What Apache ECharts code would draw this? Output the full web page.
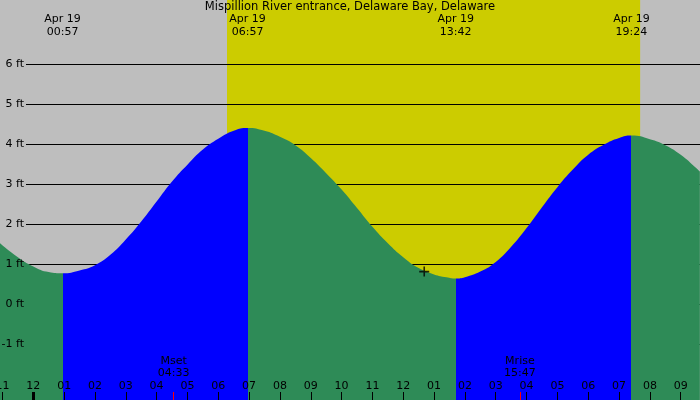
<!DOCTYPE html>
<html><head><meta charset="utf-8">
<script src="https://cdn.jsdelivr.net/npm/echarts@6/dist/echarts.min.js"></script>
<style>html,body{margin:0;padding:0;background:#bebebe}#c{width:700px;height:400px}</style>
</head><body><div id="c"></div>
<script>
// ---- data ----
const titleText = 'Mispillion River entrance, Delaware Bay, Delaware';
const dayLabel = 'Apr 19';
// tide readings: hours after midnight Apr 19, height in ft
const tideTimes   = [-1.08, -0.5, 0.0, 0.5, 0.95, 1.5, 2.0, 2.5, 3.0, 3.5, 4.0, 4.5, 5.0, 5.5, 6.0, 6.5, 6.95,
                     7.5, 8.0, 8.5, 9.0, 9.5, 10.0, 10.5, 11.0, 11.5, 12.0, 12.5, 13.0, 13.4, 13.70,
                     14.0, 14.5, 15.0, 15.5, 16.0, 16.5, 17.0, 17.5, 18.0, 18.5, 19.0, 19.40,
                     20.0, 20.5, 21.0, 21.5, 21.62];
const tideHeights = [1.52, 1.17, 0.94, 0.80, 0.77, 0.84, 0.97, 1.23, 1.61, 2.06, 2.56, 3.06, 3.48, 3.86, 4.13, 4.33, 4.40,
                     4.33, 4.18, 3.97, 3.65, 3.27, 2.86, 2.40, 1.93, 1.52, 1.17, 0.90, 0.74, 0.67, 0.64,
                     0.67, 0.81, 1.05, 1.43, 1.90, 2.42, 2.92, 3.36, 3.73, 3.98, 4.15, 4.21,
                     4.12, 3.97, 3.73, 3.40, 3.31];
// high / low tide events
const extremeTimes = ['00:57', '06:57', '13:42', '19:24'];
const extremeTypes = ['L', 'H', 'L', 'H'];
// sun
const sunrise = '06:17';
const sunset = '19:41';
// moon
const moonTimes = ['04:33', '15:47'];
const moonLabels = ['Mset', 'Mrise'];
// current time marker
const nowTime = 12.68;
const nowHeight = 0.81;
// axis ticks
const hourTicks = [-1, 0, 1, 2, 3, 4, 5, 6, 7, 8, 9, 10, 11, 12, 13, 14, 15, 16, 17, 18, 19, 20, 21];
const midnightTicks = [0];

// ---- helpers ----
const GREEN = '#2e8b57', BLUE = '#0000ff', YELLOW = '#cccc00', GRAY = '#bebebe';
const FONT = "'DejaVu Sans', sans-serif";
function toHours(s) { const p = s.split(':'); return (+p[0]) + (+p[1]) / 60; }
function pad(n) { return (n < 10 ? '0' : '') + n; }
function hhmm(v) { const m = Math.round(v * 60); return pad(Math.floor(m / 60)) + ':' + pad(m % 60); }
function hourLabel(v) { const h = ((Math.round(v) % 12) + 12) % 12; return pad(h === 0 ? 12 : h); }

const extremeHours = extremeTimes.map(toHours);
const moonHours = moonTimes.map(toHours);
const tideData = tideTimes.map((t, i) => [t, tideHeights[i]]);

const pieces = [];
let prev = null;
extremeHours.forEach((h, i) => {
  const p = { lt: h, color: extremeTypes[i] === 'L' ? GREEN : BLUE };
  if (prev !== null) p.gte = prev;
  pieces.push(p);
  prev = h;
});
pieces.push({ gte: prev, color: extremeTypes[extremeTypes.length - 1] === 'L' ? BLUE : GREEN });

const xMin = -1.08, xMax = 21.625;
const baseX = {
  gridIndex: 0, type: 'value', min: xMin, max: xMax, position: 'bottom',
  axisLine: { show: false, onZero: false }, splitLine: { show: false }
};

const chart = echarts.init(document.getElementById('c'), null, { renderer: 'canvas' });
chart.setOption({
  animation: false,
  backgroundColor: GRAY,
  textStyle: { fontFamily: FONT },
  title: {
    text: titleText, left: 'center', top: 1, padding: 0,
    textStyle: { fontSize: 11.5, fontWeight: 'normal', color: '#000', fontFamily: FONT }
  },
  grid: [
    { left: 0, width: 700, top: 0, height: 400, containLabel: false, outerBoundsMode: 'none' },
    { left: 26, right: 0, top: 64, height: 280, containLabel: false, outerBoundsMode: 'none' }
  ],
  xAxis: [
    Object.assign({}, baseX, {
      z: 8,
      axisTick: { show: true, inside: true, length: 8, customValues: hourTicks, lineStyle: { color: '#000', width: 1 } },
      axisLabel: { show: true, inside: true, margin: 8, customValues: hourTicks, formatter: hourLabel,
        color: '#000', fontSize: 11, fontFamily: FONT }
    }),
    Object.assign({}, baseX, {
      z: 8,
      axisTick: { show: true, inside: true, length: 8, customValues: midnightTicks, lineStyle: { color: '#000', width: 3 } },
      axisLabel: { show: false }
    }),
    Object.assign({}, baseX, {
      z: 9,
      axisTick: { show: true, inside: true, length: 8, customValues: moonHours, lineStyle: { color: '#ff0000', width: 1 } },
      axisLabel: { show: true, inside: true, margin: 21, customValues: moonHours,
        formatter: v => { let i = 0, d = 1e9; moonHours.forEach((m, k) => { if (Math.abs(m - v) < d) { d = Math.abs(m - v); i = k; } }); return moonLabels[i] + '\n' + hhmm(moonHours[i]); },
        color: '#000', fontSize: 11, lineHeight: 12, fontFamily: FONT }
    }),
    Object.assign({}, baseX, {
      position: 'top', z: 8,
      axisTick: { show: false },
      axisLabel: { show: true, inside: true, margin: 13, customValues: extremeHours,
        formatter: v => dayLabel + '\n' + hhmm(v),
        color: '#000', fontSize: 11, lineHeight: 13, fontFamily: FONT }
    }),
    { gridIndex: 1, type: 'value', min: xMin, max: xMax, show: false, axisLine: { onZero: false } }
  ],
  yAxis: [
    { gridIndex: 0, type: 'value', min: -2.4, max: 7.6, show: false },
    { gridIndex: 1, type: 'value', min: -1, max: 6, interval: 1, z: 3,
      axisLine: { show: false }, axisTick: { show: false }, axisLabel: { show: false },
      splitLine: { show: true, lineStyle: { color: '#000', width: 1 } } },
    { gridIndex: 1, type: 'value', min: -1, max: 6, interval: 1, z: 8, position: 'left',
      axisLine: { show: false }, axisTick: { show: false }, splitLine: { show: false },
      axisLabel: { show: true, margin: 2, formatter: v => v + ' ft', color: '#000', fontSize: 11, fontFamily: FONT } }
  ],
  visualMap: { show: false, type: 'piecewise', seriesIndex: 0, dimension: 0, pieces: pieces },
  series: [
    {
      type: 'line', xAxisIndex: 0, yAxisIndex: 0, z: 5,
      data: tideData, smooth: 0.5, showSymbol: false, symbol: 'none',
      lineStyle: { width: 0 },
      areaStyle: { opacity: 1, origin: 'start' },
      markArea: {
        z: 1, silent: true,
        itemStyle: { color: YELLOW, opacity: 1 },
        data: [[{ xAxis: toHours(sunrise) }, { xAxis: toHours(sunset) }]]
      }
    },
    {
      type: 'scatter', xAxisIndex: 0, yAxisIndex: 0, z: 9,
      data: [[nowTime, nowHeight]],
      symbol: 'path://M4.2,0h1.6v4.2h4.2v1.6h-4.2v4.2h-1.6v-4.2h-4.2v-1.6h4.2z',
      symbolSize: 10, itemStyle: { color: '#000' }
    }
  ]
});
</script></body></html>
